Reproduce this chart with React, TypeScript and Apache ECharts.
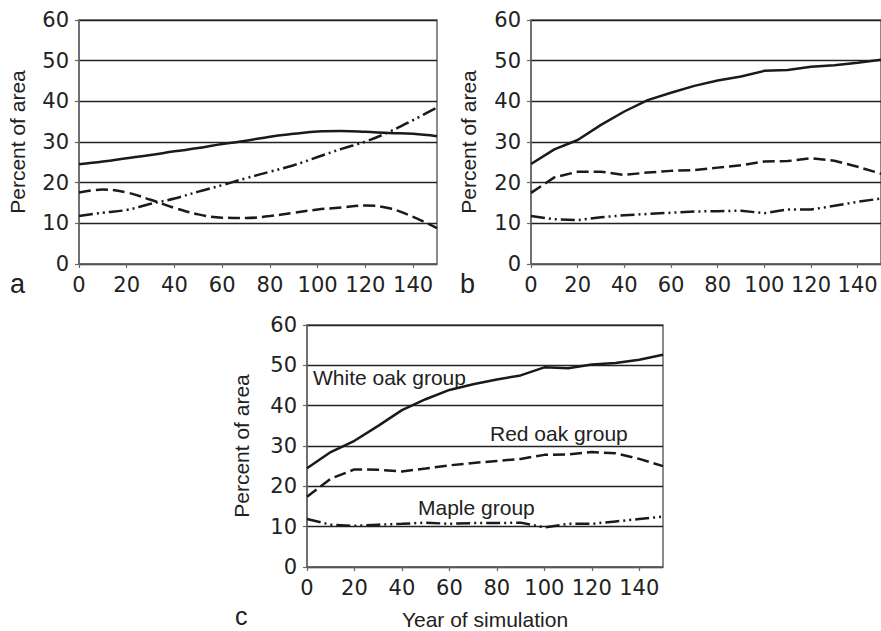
import React, { useEffect, useRef } from "react";
import * as echarts from "echarts";

const years = [0, 10, 20, 30, 40, 50, 60, 70, 80, 90, 100, 110, 120, 130, 140, 150];
const xTicks = [0, 20, 40, 60, 80, 100, 120, 140];

// Panel a
const aWhiteOak = [24.5, 25.2, 26.0, 26.8, 27.7, 28.5, 29.5, 30.3, 31.3, 32.0, 32.6, 32.7, 32.5, 32.2, 32.0, 31.4];
const aRedOak = [17.6, 18.3, 17.6, 15.8, 13.8, 12.2, 11.4, 11.3, 11.8, 12.6, 13.4, 13.9, 14.4, 13.7, 11.6, 8.8];
const aMaple = [11.8, 12.6, 13.3, 14.8, 16.1, 17.8, 19.4, 21.1, 22.7, 24.3, 26.3, 28.3, 30.1, 32.5, 35.4, 38.5];

// Panel b
const bWhiteOak = [24.6, 28.2, 30.5, 34.2, 37.5, 40.3, 42.1, 43.8, 45.1, 46.1, 47.5, 47.7, 48.5, 48.9, 49.5, 50.2];
const bRedOak = [17.5, 21.3, 22.7, 22.7, 21.9, 22.5, 22.9, 23.1, 23.7, 24.3, 25.2, 25.3, 26.0, 25.4, 23.9, 22.2];
const bMaple = [11.8, 11.0, 10.8, 11.5, 12.0, 12.3, 12.6, 12.9, 13.0, 13.1, 12.5, 13.4, 13.4, 14.3, 15.3, 16.1];

// Panel c
const cWhiteOak = [24.5, 28.5, 31.3, 35.0, 38.9, 41.6, 43.9, 45.3, 46.5, 47.5, 49.5, 49.3, 50.2, 50.6, 51.4, 52.6];
const cRedOak = [17.4, 21.9, 24.2, 24.1, 23.7, 24.4, 25.2, 25.8, 26.3, 26.8, 27.8, 27.9, 28.5, 28.2, 26.8, 25.0];
const cMaple = [11.9, 10.5, 10.2, 10.5, 10.7, 11.0, 10.7, 10.9, 10.9, 11.0, 9.8, 10.7, 10.7, 11.3, 11.9, 12.5];

const panelLetters = ["a", "b", "c"];
const groupNames = ["White oak group", "Red oak group", "Maple group"];
const yName = "Percent of area";
const xName = "Year of simulation";

const LINE = "#1a1a1a";
const AXIS = "#666";
const TEXT = "#222";
const NUM_FONT = "DejaVu Sans";
const TXT_FONT = "Liberation Sans, Arial, sans-serif";

const pair = (ys: number[]) => years.map((x, i) => [x, ys[i]]);

export default function App() {
  const ref = useRef<HTMLDivElement>(null);
  useEffect(() => {
    if (!ref.current) return;
    const chart = echarts.init(ref.current, null, { renderer: "svg" });

    const grids = [
      { left: 79, top: 20, width: 358, height: 244 },
      { left: 531, top: 20, width: 356, height: 244 },
      { left: 307, top: 325, width: 356, height: 244 },
    ].map((g) => ({ ...g, show: true, borderColor: AXIS, borderWidth: 1.5, backgroundColor: "transparent" }));

    const nameGaps = [51, 52, 55];
    const xAxes = [0, 1, 2].map((i) => ({
      type: "value",
      gridIndex: i,
      min: 0,
      max: 150,
      interval: 20,
      name: i === 2 ? xName : "",
      nameLocation: "middle",
      nameGap: 42,
      nameTextStyle: { fontFamily: TXT_FONT, fontSize: 21, color: TEXT },
      axisLine: { show: true, lineStyle: { color: AXIS, width: 1.5 } },
      axisTick: { show: true, length: 4, inside: false, customValues: xTicks, lineStyle: { color: AXIS, width: 1.2 } },
      axisLabel: { customValues: xTicks, margin: 10, fontFamily: NUM_FONT, fontSize: 21, color: TEXT },
      splitLine: { show: false },
    }));
    const yAxes = [0, 1, 2].map((i) => ({
      type: "value",
      gridIndex: i,
      min: 0,
      max: 60,
      interval: 10,
      name: yName,
      nameLocation: "middle",
      nameGap: nameGaps[i],
      nameTextStyle: { fontFamily: TXT_FONT, fontSize: 21, color: TEXT },
      axisLine: { show: true, lineStyle: { color: AXIS, width: 1.5 } },
      axisTick: { show: true, length: 4, lineStyle: { color: AXIS, width: 1.2 } },
      axisLabel: { margin: 10, fontFamily: NUM_FONT, fontSize: 21, color: TEXT },
      splitLine: { show: true, lineStyle: { color: "#222", width: 1.3 } },
    }));

    const mk = (data: number[], idx: number, kind: number, smooth: number | boolean) => ({
      type: "line",
      xAxisIndex: idx,
      yAxisIndex: idx,
      data: pair(data),
      symbol: "none",
      smooth,
      lineStyle: {
        color: LINE,
        width: 2.5,
        type: kind === 0 ? "solid" : kind === 1 ? [12, 5] : [14, 4, 2, 4, 2, 4],
      },
      z: 5,
    });

    const series = [
      mk(aWhiteOak, 0, 0, 0.4),
      mk(aRedOak, 0, 1, 0.4),
      mk(aMaple, 0, 2, 0.4),
      mk(bWhiteOak, 1, 0, false),
      mk(bRedOak, 1, 1, false),
      mk(bMaple, 1, 2, false),
      mk(cWhiteOak, 2, 0, false),
      mk(cRedOak, 2, 1, false),
      mk(cMaple, 2, 2, false),
    ];

    const txt = (s: string, x: number, y: number, size: number) => ({
      type: "text",
      x,
      y,
      style: { text: s, fill: TEXT, font: `${size}px ${TXT_FONT}`, textVerticalAlign: "middle" },
      z: 10,
    });

    chart.setOption({
      animation: false,
      backgroundColor: "#fff",
      grid: grids,
      xAxis: xAxes,
      yAxis: yAxes,
      series,
      graphic: [
        txt(panelLetters[0], 10, 284, 27),
        txt(panelLetters[1], 460, 284, 27),
        txt(panelLetters[2], 235, 616, 25),
        txt(groupNames[0], 313, 377, 21),
        txt(groupNames[1], 490, 433, 21),
        txt(groupNames[2], 418, 507, 21),
      ],
    });
    return () => chart.dispose();
  }, []);
  return <div ref={ref} style={{ position: "fixed", left: 0, top: 0, width: 881, height: 631 }} />;
}
